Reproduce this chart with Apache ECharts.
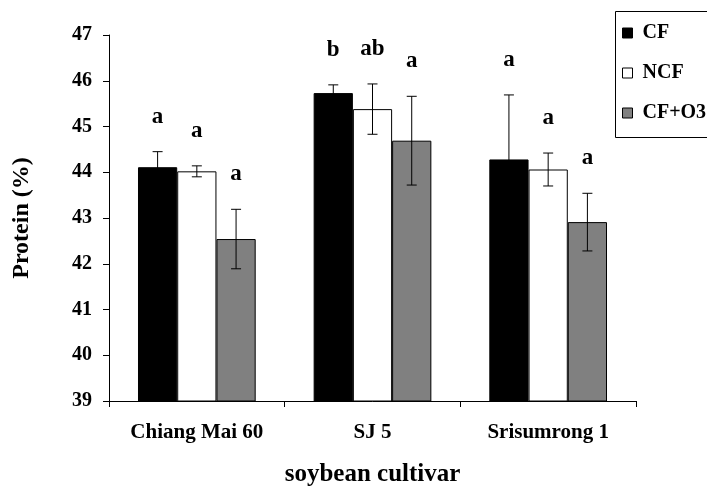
<!DOCTYPE html>
<html>
<head>
<meta charset="utf-8">
<script src="https://cdn.jsdelivr.net/npm/echarts@6/dist/echarts.min.js"></script>
<style>
    html, body { margin: 0; padding: 0; background: #fff; }
    #chart { width: 707px; height: 486px; }
</style>
</head>
<body>
<div id="chart"></div>
<script>
    var cultivars = ['Chiang Mai 60', 'SJ 5', 'Srisumrong 1'];
    var treatments = ['CF', 'NCF', 'CF+O3'];

    // mean protein (%) per cultivar
    var cfValues = [44.11, 45.73, 44.28];
    var ncfValues = [44.02, 45.38, 44.06];
    var o3Values = [42.54, 44.69, 42.91];

    // error bar half-lengths
    var cfErrors = [0.34, 0.18, 1.41];
    var ncfErrors = [0.12, 0.55, 0.36];
    var o3Errors = [0.65, 0.97, 0.63];

    // significance letters
    var cfLetters = ['a', 'b', 'a'];
    var ncfLetters = ['a', 'ab', 'a'];
    var o3Letters = ['a', 'a', 'a'];

    var yTicks = { min: 39, max: 47, interval: 1 };

    var font = "'Liberation Serif', 'Times New Roman', serif";
    var colors = ['#000000', '#ffffff', '#808080'];
    var barGapRatio = 0.33;

    var values = [cfValues, ncfValues, o3Values];
    var errors = [cfErrors, ncfErrors, o3Errors];
    var letters = [cfLetters, ncfLetters, o3Letters];

    function errorSeries(idx) {
        var data = cultivars.map(function (c, i) {
            return [i, values[idx][i], errors[idx][i]];
        });
        return {
            type: 'custom',
            name: treatments[idx] + ' err',
            z: 5,
            silent: true,
            data: data,
            renderItem: function (params, api) {
                var cat = api.value(0);
                var mean = api.value(1);
                var err = api.value(2);
                var catWidth = api.size([1, 0])[0];
                var barW = catWidth * (1 - barGapRatio) / 3;
                var dx = (idx - 1) * barW;
                var top = api.coord([cat, mean + err]);
                var bot = api.coord([cat, mean - err]);
                var x = top[0] + dx;
                var cap = 5;
                var style = { stroke: '#000', lineWidth: 1 };
                return {
                    type: 'group',
                    children: [
                        { type: 'line', shape: { x1: x, y1: top[1], x2: x, y2: bot[1] }, style: style },
                        { type: 'line', shape: { x1: x - cap, y1: top[1], x2: x + cap, y2: top[1] }, style: style },
                        { type: 'line', shape: { x1: x - cap, y1: bot[1], x2: x + cap, y2: bot[1] }, style: style },
                        {
                            type: 'text',
                            x: x,
                            y: top[1] - 35,
                            style: {
                                text: letters[idx][params.dataIndex],
                                fill: '#000',
                                font: 'bold 23px ' + font,
                                textAlign: 'center',
                                textVerticalAlign: 'middle'
                            }
                        }
                    ]
                };
            }
        };
    }

    var barSeries = treatments.map(function (t, idx) {
        return {
            name: t,
            type: 'bar',
            data: values[idx],
            barGap: '0%',
            barCategoryGap: (barGapRatio * 100) + '%',
            itemStyle: {
                color: colors[idx],
                borderColor: '#000',
                borderWidth: 1
            }
        };
    });

    var myChart = echarts.init(document.getElementById('chart'));
    myChart.setOption({
        animation: false,
        textStyle: { fontFamily: font },
        grid: {
            left: 109,
            right: 71,
            top: 35,
            bottom: 85,
            outerBoundsMode: 'none'
        },
        // legend frame runs off the right edge like the original
        graphic: [{
            type: 'rect',
            shape: { x: 615.5, y: 11.5, width: 140, height: 126 },
            style: { fill: 'none', stroke: '#000', lineWidth: 1 },
            z: 10
        }],
        legend: {
            data: treatments,
            orient: 'vertical',
            left: 615,
            top: 11,
            padding: [12, 10, 12, 7],
            itemWidth: 10,
            itemHeight: 10,
            itemGap: 20,
            icon: 'rect',
            itemStyle: { borderColor: '#000', borderWidth: 1 },
            textStyle: {
                fontFamily: font,
                fontWeight: 'bold',
                fontSize: 20,
                color: '#000',
                padding: [0, 0, 0, 5]
            }
        },
        xAxis: {
            type: 'category',
            data: cultivars,
            name: 'soybean cultivar',
            nameLocation: 'middle',
            nameGap: 61,
            nameTextStyle: { fontFamily: font, fontWeight: 'bold', fontSize: 25, color: '#000' },
            axisLine: { lineStyle: { color: '#000', width: 1 } },
            axisTick: { show: true, length: 6, lineStyle: { color: '#000' } },
            axisLabel: { fontFamily: font, fontWeight: 'bold', fontSize: 21, color: '#000', margin: 21 }
        },
        yAxis: {
            type: 'value',
            min: yTicks.min,
            max: yTicks.max,
            interval: yTicks.interval,
            name: 'Protein (%)',
            nameLocation: 'middle',
            nameGap: 75,
            nameTextStyle: { fontFamily: font, fontWeight: 'bold', fontSize: 24, color: '#000' },
            splitLine: { show: false },
            axisLine: { show: true, lineStyle: { color: '#000', width: 1 } },
            axisTick: { show: true, length: 6, lineStyle: { color: '#000' } },
            axisLabel: { fontFamily: font, fontWeight: 'bold', fontSize: 20, color: '#000', margin: 17 }
        },
        series: barSeries.concat([errorSeries(0), errorSeries(1), errorSeries(2)])
    });
</script>
</body>
</html>
